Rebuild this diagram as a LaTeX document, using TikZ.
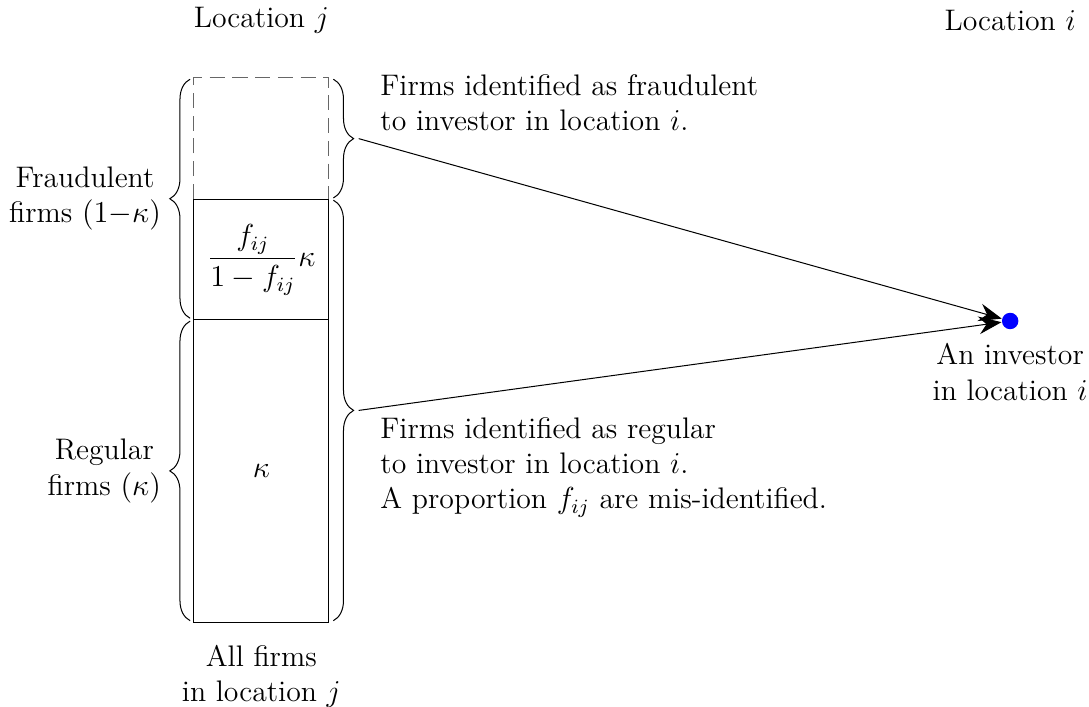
\documentclass[tikz,border=0pt]{standalone}
\usetikzlibrary{decorations.pathreplacing,arrows.meta,positioning}
\begin{document}
\begin{tikzpicture}[>={Stealth[length=9pt,width=7pt,inset=3pt]},
  every node/.style={font=\fontsize{11.75pt}{13.9pt}\selectfont},
  brace/.style={decorate,decoration={brace,amplitude=8pt}},
  label/.style={align=center},
  note/.style={align=left,anchor=west}]
\useasboundingbox (0,0) rectangle (15.125,-9.806);
%column of firms
\draw[gray!80!black,dash pattern=on 6pt off 3pt] (2.694,-2.764) -- (2.694,-1.083) -- (4.569,-1.083) -- (4.569,-2.764);
\draw (2.694,-2.764) rectangle (4.569,-4.444);
\draw (2.694,-4.444) rectangle (4.569,-8.639);
\node (frac) at (3.63,-3.61) {$\displaystyle\frac{f_{ij}}{1-f_{ij}}\kappa$};
\node (kappa) at (3.63,-6.54) {$\kappa$};
%braces
\draw[brace] (2.64,-4.42) -- (2.64,-1.10) coordinate[midway,xshift=-8pt] (fraudL);
\draw[brace] (2.64,-8.62) -- (2.64,-4.46) coordinate[midway,xshift=-8pt] (regL);
\draw[brace] (4.63,-1.10) -- (4.63,-2.75) coordinate[midway,xshift=10pt] (fraudR);
\draw[brace] (4.63,-2.78) -- (4.63,-8.62) coordinate[midway,xshift=10pt] (regR);
\node[label,left=0pt of fraudL] (fraudlab) {Fraudulent\\firms $(1{-}\kappa)$};
\node[label,left=0pt of regL] (reglab) {Regular\\firms $(\kappa)$};
%text
\node (locj) at (3.63,-0.28) {Location $j$};
\node (loci) at (14.03,-0.28) {Location $i$};
\node[label] (allfirms) at (3.63,-9.39) {All firms\\in location $j$};
\node[note] (fraudnote) at (5.16,-1.43) {Firms identified as fraudulent\\to investor in location $i$.};
\node[note] (regnote) at (5.16,-6.49) {Firms identified as regular\\to investor in location $i$.\\A proportion $f_{ij}$ are mis-identified.};
%investor
\node[circle,fill=blue,inner sep=0pt,minimum size=6.5pt] (investor) at (14.03,-4.458) {};
\node[label,below=2pt of investor] (invlab) {An investor\\in location $i$};
\draw[->] (fraudR) -- (investor);
\draw[->] (regR) -- (investor);
\end{tikzpicture}
\end{document}
